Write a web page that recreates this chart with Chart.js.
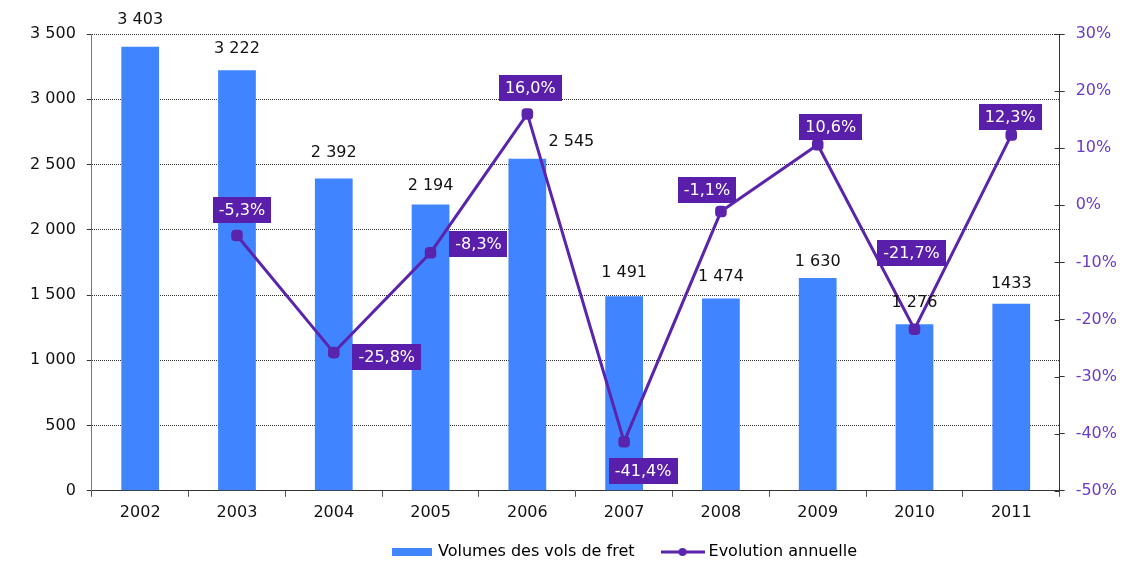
<!DOCTYPE html>
<html>
<head>
<meta charset="utf-8">
<script src="https://cdn.jsdelivr.net/npm/chart.js@4.4.1/dist/chart.umd.min.js"></script>
<style>
    html, body { margin: 0; padding: 0; background: #ffffff; }
    #wrap { width: 1137px; height: 563px; }
</style>
</head>
<body>
<div id="wrap"><canvas id="fretChart"></canvas></div>
<script>
    // Data
    const years = ['2002', '2003', '2004', '2005', '2006', '2007', '2008', '2009', '2010', '2011'];
    const volumes = [3403, 3222, 2392, 2194, 2545, 1491, 1474, 1630, 1276, 1433];
    const volumeLabels = ['3 403', '3 222', '2 392', '2 194', '2 545', '1 491', '1 474', '1 630', '1 276', '1433'];
    const evolution = [null, -5.3, -25.8, -8.3, 16.0, -41.4, -1.1, 10.6, -21.7, 12.3];

    // Label placement (pixels from the mark)
    const volLabelOffsets = [[0, -27], [0, -21], [0, -26], [0, -19], [44, -17], [0, -23], [0, -22], [0, -16], [0, -21], [0, -20]];
    const evoLabelOffsets = [null, [5, -26], [53, 4], [48, -9], [3, -26], [19, 29], [-14, -22], [13, -18], [-3, -76], [-1, -18]];

    const barColor = '#4184ff';
    const lineColor = '#5b24ad';
    const boxColor = '#5a1faa';
    const fontFamily = '"DejaVu Sans", Verdana, sans-serif';
    const fontSize = 16;

    function fmtPct(v) {
        return v.toFixed(1).replace('.', ',') + '%';
    }

    // Legend icons
    function barIcon() {
        const c = document.createElement('canvas');
        c.width = 40; c.height = 8;
        const g = c.getContext('2d');
        g.fillStyle = barColor;
        g.fillRect(0, 0, 40, 8);
        return c;
    }
    function lineIcon() {
        const c = document.createElement('canvas');
        c.width = 44; c.height = 10;
        const g = c.getContext('2d');
        g.strokeStyle = lineColor;
        g.lineWidth = 3;
        g.beginPath();
        g.moveTo(0, 5); g.lineTo(44, 5);
        g.stroke();
        g.fillStyle = lineColor;
        g.beginPath();
        g.arc(22, 5, 4, 0, Math.PI * 2);
        g.fill();
        return c;
    }

    const valueLabels = {
        id: 'valueLabels',
        afterDatasetsDraw(chart) {
            const ctx = chart.ctx;
            ctx.save();
            ctx.font = fontSize + 'px ' + fontFamily;
            ctx.textAlign = 'center';
            ctx.textBaseline = 'middle';

            // bar values
            const barMeta = chart.getDatasetMeta(0);
            barMeta.data.forEach((bar, i) => {
                const off = volLabelOffsets[i];
                ctx.fillStyle = '#111111';
                ctx.fillText(volumeLabels[i], bar.x + off[0], bar.y + off[1]);
            });

            // evolution boxes
            const lineMeta = chart.getDatasetMeta(1);
            lineMeta.data.forEach((pt, i) => {
                if (evolution[i] === null) return;
                const off = evoLabelOffsets[i];
                const txt = fmtPct(evolution[i]);
                const w = ctx.measureText(txt).width + 12;
                const h = 26;
                const cx = pt.x + off[0];
                const cy = pt.y + off[1];
                ctx.fillStyle = boxColor;
                ctx.fillRect(Math.round(cx - w / 2), Math.round(cy - h / 2), Math.round(w), h);
                ctx.fillStyle = '#ffffff';
                ctx.fillText(txt, cx, cy + 1);
            });
            ctx.restore();
        }
    };

    // Right axis ticks cross the axis line
    const crossTicks = {
        id: 'crossTicks',
        afterDraw(chart) {
            const s = chart.scales.y1;
            const ctx = chart.ctx;
            ctx.save();
            ctx.strokeStyle = '#333333';
            ctx.lineWidth = 1;
            s.ticks.forEach(t => {
                const y = Math.round(s.getPixelForValue(t.value)) + 0.5;
                ctx.beginPath();
                ctx.moveTo(s.left - 5, y);
                ctx.lineTo(s.left, y);
                ctx.stroke();
            });
            ctx.restore();
        }
    };

    // Legend sits a bit right of centre and higher in the original
    const legendShift = {
        id: 'legendShift',
        afterLayout(chart) {
            chart.legend.left += 52;
            chart.legend.right += 52;
            chart.legend.top -= 14;
            chart.legend.bottom -= 14;
        }
    };

    new Chart(document.getElementById('fretChart'), {
        data: {
            labels: years,
            datasets: [{
                type: 'bar',
                label: 'Volumes des vols de fret',
                data: volumes,
                backgroundColor: barColor,
                borderWidth: 0,
                categoryPercentage: 1,
                barPercentage: 0.39,
                yAxisID: 'y',
                order: 2
            }, {
                type: 'line',
                label: 'Evolution annuelle',
                data: evolution,
                borderColor: lineColor,
                backgroundColor: lineColor,
                borderWidth: 3,
                tension: 0,
                pointStyle: 'rectRounded',
                pointRadius: 5,
                pointBackgroundColor: lineColor,
                pointBorderColor: lineColor,
                spanGaps: false,
                yAxisID: 'y1',
                order: 1
            }]
        },
        options: {
            responsive: true,
            maintainAspectRatio: false,
            animation: false,
            layout: {
                padding: { left: 19, right: 9, top: 34, bottom: -21 }
            },
            plugins: {
                tooltip: { enabled: false },
                legend: {
                    position: 'bottom',
                    labels: {
                        usePointStyle: true,
                        pointStyleWidth: 36,
                        padding: 30,
                        color: '#111111',
                        font: { family: fontFamily, size: fontSize },
                        generateLabels: function(chart) {
                            return chart.data.datasets.map((ds, i) => ({
                                text: ds.label,
                                datasetIndex: i,
                                pointStyle: i === 0 ? barIcon() : lineIcon(),
                                fillStyle: ds.backgroundColor,
                                strokeStyle: ds.backgroundColor,
                                lineWidth: 0,
                                hidden: false
                            }));
                        }
                    }
                }
            },
            scales: {
                x: {
                    offset: true,
                    grid: {
                        offset: true,
                        drawOnChartArea: false,
                        drawTicks: true,
                        tickLength: 6,
                        tickColor: '#555555'
                    },
                    border: { color: '#333333', width: 1 },
                    ticks: {
                        color: '#111111',
                        padding: 6,
                        font: { family: fontFamily, size: fontSize }
                    }
                },
                y: {
                    position: 'left',
                    min: 0,
                    max: 3500,
                    ticks: {
                        stepSize: 500,
                        padding: 11,
                        color: '#111111',
                        font: { family: fontFamily, size: fontSize },
                        callback: function(v) {
                            return String(v).replace(/\B(?=(\d{3})+(?!\d))/g, ' ');
                        }
                    },
                    grid: {
                        color: '#333333',
                        lineWidth: 1,
                        tickLength: 5,
                        tickColor: '#333333',
                        tickBorderDash: []
                    },
                    border: { color: '#777777', width: 1, dash: [1, 1] }
                },
                y1: {
                    position: 'right',
                    min: -50,
                    max: 30,
                    ticks: {
                        stepSize: 10,
                        padding: 11,
                        color: '#6a3cc8',
                        font: { family: fontFamily, size: fontSize },
                        callback: function(v) {
                            return v + '%';
                        }
                    },
                    grid: {
                        drawOnChartArea: false,
                        tickLength: 5,
                        tickColor: '#333333'
                    },
                    border: { color: '#333333', width: 1 }
                }
            }
        },
        plugins: [valueLabels, crossTicks, legendShift]
    });
</script>
</body>
</html>
